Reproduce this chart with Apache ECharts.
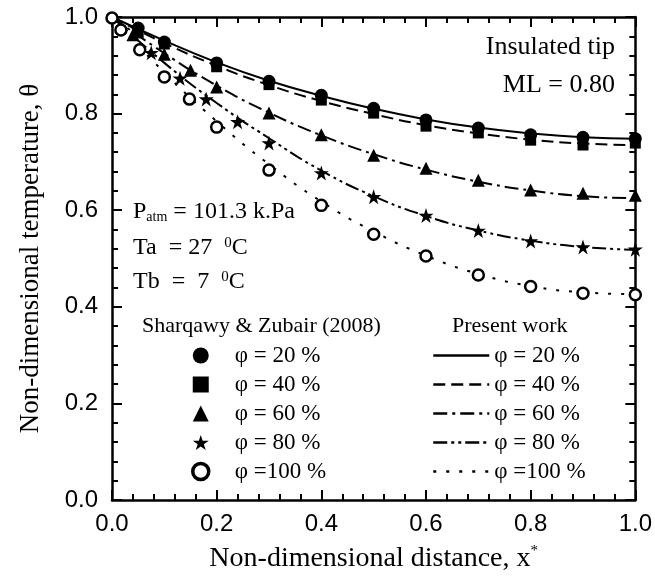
<!DOCTYPE html>
<html>
<head>
<meta charset="utf-8">
<script src="https://cdn.jsdelivr.net/npm/echarts@6/dist/echarts.min.js"></script>
<style>html,body{margin:0;padding:0;background:#fff}#c{width:655px;height:582px}</style>
</head>
<body>
<div id="c"></div>
<script>
// ---- Data ----
const phiLabels = ['φ = 20 %', 'φ = 40 %', 'φ = 60 %', 'φ = 80 %', 'φ =100 %'];

// Experimental (Sharqawy & Zubair 2008) markers
const exp20X = [0.05, 0.10, 0.20, 0.30, 0.40, 0.50, 0.60, 0.70, 0.80, 0.90, 1.00];
const exp20Y = [0.977, 0.948, 0.905, 0.867, 0.838, 0.811, 0.787, 0.770, 0.756, 0.751, 0.748];
const exp40X = [0.05, 0.10, 0.20, 0.30, 0.40, 0.50, 0.60, 0.70, 0.80, 0.90, 1.00];
const exp40Y = [0.967, 0.944, 0.897, 0.860, 0.828, 0.801, 0.774, 0.760, 0.745, 0.735, 0.739];
const exp60X = [0.04, 0.10, 0.15, 0.20, 0.30, 0.40, 0.50, 0.60, 0.70, 0.80, 0.90, 1.00];
const exp60Y = [0.963, 0.923, 0.890, 0.855, 0.801, 0.756, 0.714, 0.687, 0.662, 0.642, 0.635, 0.631];
const exp80X = [0.075, 0.13, 0.18, 0.24, 0.30, 0.40, 0.50, 0.60, 0.70, 0.80, 0.90, 1.00];
const exp80Y = [0.926, 0.873, 0.830, 0.783, 0.739, 0.677, 0.628, 0.589, 0.558, 0.536, 0.524, 0.519];
const exp100X = [0.00, 0.017, 0.053, 0.10, 0.148, 0.20, 0.30, 0.40, 0.50, 0.60, 0.70, 0.80, 0.90, 1.00];
const exp100Y = [0.998, 0.973, 0.932, 0.876, 0.830, 0.772, 0.683, 0.610, 0.550, 0.505, 0.466, 0.442, 0.428, 0.425];

// Present work curves
const lineX = [0.0, 0.1, 0.2, 0.3, 0.4, 0.5, 0.6, 0.7, 0.8, 0.9, 1.0];
const line20 = [1.000, 0.951, 0.906, 0.868, 0.837, 0.810, 0.788, 0.771, 0.759, 0.751, 0.748];
const line40 = [1.000, 0.946, 0.899, 0.859, 0.826, 0.799, 0.776, 0.759, 0.746, 0.738, 0.735];
const line60 = [1.000, 0.925, 0.858, 0.802, 0.755, 0.716, 0.684, 0.659, 0.641, 0.629, 0.625];
const line80 = [1.000, 0.905, 0.822, 0.749, 0.682, 0.629, 0.588, 0.558, 0.537, 0.524, 0.518];
const line100 = [1.000, 0.885, 0.784, 0.695, 0.618, 0.556, 0.506, 0.468, 0.443, 0.430, 0.426];

// Axis ticks
const axisMin = 0.0, axisMax = 1.0, axisStep = 0.2;

// ---- Build ----
const serif = '"Liberation Serif","Times New Roman",serif';
const sans = '"Liberation Sans",Arial,sans-serif';
const starPath = 'path://M50,0 L61.8,35.4 L99,35.4 L68.9,57.3 L80.4,92.7 L50,70.8 L19.6,92.7 L31.1,57.3 L1,35.4 L38.2,35.4 Z';

const expX = [exp20X, exp40X, exp60X, exp80X, exp100X];
const expY = [exp20Y, exp40Y, exp60Y, exp80Y, exp100Y];
const lineY = [line20, line40, line60, line80, line100];
const symbols = ['circle', 'rect', 'triangle', starPath, 'circle'];
const symSizes = [13, 11, 13, 15, 11];
const dashes = ['solid', [12, 6], [14, 5, 3, 5], [14, 4, 3, 4, 3, 4], [3, 10]];

const zip = (xs, ys) => xs.map((x, i) => [x, ys[i]]);

const expNames = phiLabels.map(l => 'E|' + l);
const lineNames = phiLabels.map(l => 'L|' + l);

const series = [];
lineY.forEach((ys, i) => {
  series.push({
    name: lineNames[i], type: 'line', data: zip(lineX, ys),
    smooth: 0.5, symbol: 'none', showSymbol: false, z: 2,
    lineStyle: {color: '#000', width: 2, type: dashes[i]},
    itemStyle: {color: '#000'}
  });
});
expY.forEach((ys, i) => {
  const open = i === 4;
  series.push({
    name: expNames[i], type: 'scatter', data: zip(expX[i], ys),
    symbol: symbols[i], symbolSize: symSizes[i], z: 5,
    itemStyle: open ? {color: '#fff', borderColor: '#000', borderWidth: 2.5, opacity: 1}
                    : {color: '#000', opacity: 1}
  });
});

const tickCommon = {
  axisLine: {show: true, onZero: false, lineStyle: {color: '#000', width: 2.5}},
  axisTick: {show: true, inside: true, length: 10, lineStyle: {color: '#000', width: 2}},
  minorTick: {show: true, splitNumber: 5, length: 6, lineStyle: {color: '#000', width: 2}},
  splitLine: {show: false}, minorSplitLine: {show: false}
};
const labelStyle = {color: '#000', fontFamily: sans, fontSize: 24, formatter: v => v.toFixed(1)};

const expLegendData = expNames.map((n, i) => i === 4
  ? {name: n, itemStyle: {color: '#fff', borderColor: '#000', borderWidth: 3.5}}
  : {name: n});
const lineLegendData = lineNames.map(n => ({name: n, lineStyle: {width: 2.5}}));

const chart = echarts.init(document.getElementById('c'), null, {renderer: 'canvas'});
chart.setOption({
  animation: false,
  backgroundColor: '#fff',
  grid: {left: 112, right: 16, top: 17, bottom: 82},
  xAxis: [
    Object.assign({type: 'value', min: axisMin, max: axisMax, interval: axisStep, position: 'bottom',
      name: 'Non-dimensional distance, x{sup|*}', nameLocation: 'middle', nameGap: 44,
      nameTextStyle: {color: '#000', fontFamily: serif, fontSize: 28,
        rich: {sup: {fontFamily: serif, fontSize: 15, verticalAlign: 'top', padding: [0, 0, 14, 0]}}},
      axisLabel: Object.assign({margin: 12}, labelStyle)}, tickCommon),
    Object.assign({type: 'value', min: axisMin, max: axisMax, interval: axisStep, position: 'top',
      axisLabel: {show: false}}, tickCommon)
  ],
  yAxis: [
    Object.assign({type: 'value', min: axisMin, max: axisMax, interval: axisStep, position: 'left',
      name: 'Non-dimensional temperature, θ', nameLocation: 'middle', nameGap: 68,
      nameTextStyle: {color: '#000', fontFamily: serif, fontSize: 27},
      axisLabel: Object.assign({margin: 14}, labelStyle)}, tickCommon),
    Object.assign({type: 'value', min: axisMin, max: axisMax, interval: axisStep, position: 'right',
      axisLabel: {show: false}}, tickCommon)
  ],
  legend: [
    {data: expLegendData, orient: 'vertical', left: 191, top: 341, padding: 0, itemGap: 0,
     itemWidth: 16, itemHeight: 16, selectedMode: false, symbolKeepAspect: true,
     formatter: n => n.slice(2),
     textStyle: {color: '#000', fontFamily: serif, fontSize: 23, lineHeight: 29, padding: [0, 0, 0, 21]}},
    {data: lineLegendData, orient: 'vertical', left: 432, top: 341, padding: 0, itemGap: 0,
     itemWidth: 56, itemHeight: 15, selectedMode: false,
     itemStyle: {opacity: 0},
     formatter: n => n.slice(2),
     textStyle: {color: '#000', fontFamily: serif, fontSize: 23, lineHeight: 29}}
  ],
  graphic: [
    {type: 'text', x: 615, y: 47, style: {text: 'Insulated tip', font: '26px ' + serif, fill: '#000', align: 'right', verticalAlign: 'middle'}},
    {type: 'text', x: 615, y: 85, style: {text: 'ML = 0.80', font: '26px ' + serif, fill: '#000', align: 'right', verticalAlign: 'middle'}},
    {type: 'text', x: 133, y: 212, style: {text: '{a|P}{s|atm}{a| = 101.3 k.Pa}', fill: '#000', verticalAlign: 'middle',
      rich: {a: {font: '24px ' + serif, fill: '#000'}, s: {font: '14px ' + serif, fill: '#000', verticalAlign: 'bottom', padding: [0, 0, 0, 0]}}}},
    {type: 'text', x: 133, y: 248, style: {text: '{a|Ta  = 27  }{s|0}{a|C}', fill: '#000', verticalAlign: 'middle',
      rich: {a: {font: '24px ' + serif, fill: '#000'}, s: {font: '15px ' + serif, fill: '#000', verticalAlign: 'top'}}}},
    {type: 'text', x: 133, y: 282, style: {text: '{a|Tb  =  7  }{s|0}{a|C}', fill: '#000', verticalAlign: 'middle',
      rich: {a: {font: '24px ' + serif, fill: '#000'}, s: {font: '15px ' + serif, fill: '#000', verticalAlign: 'top'}}}},
    {type: 'text', x: 142, y: 326, style: {text: 'Sharqawy & Zubair (2008)', font: '22px ' + serif, fill: '#000', verticalAlign: 'middle'}},
    {type: 'text', x: 452, y: 326, style: {text: 'Present work', font: '22px ' + serif, fill: '#000', verticalAlign: 'middle'}}
  ],
  series: series
});
</script>
</body>
</html>
